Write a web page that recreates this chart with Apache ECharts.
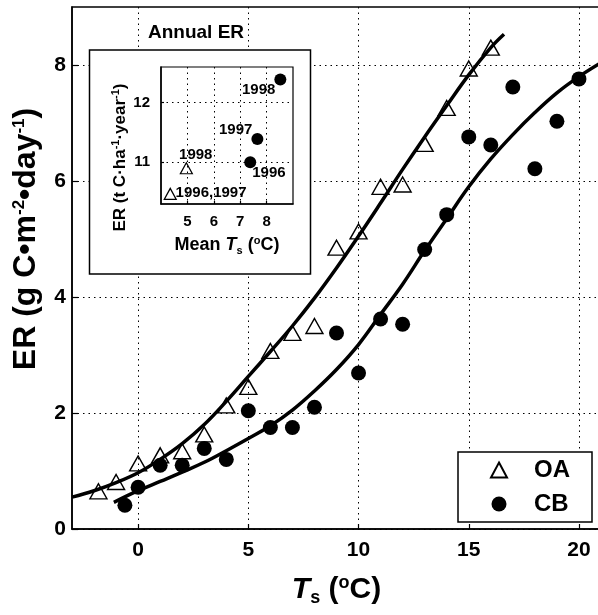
<!DOCTYPE html>
<html>
<head>
<meta charset="utf-8">
<script src="https://cdn.jsdelivr.net/npm/echarts@6/dist/echarts.min.js"></script>
<style>
html,body{margin:0;padding:0;background:#fff;}
#main{width:598px;height:615px;}
</style>
</head>
<body>
<div id="main"></div>
<script>
//-------------------- data: daily ER vs soil temperature --------------------
var oaTs = [-1.8, -1, 0, 1, 2, 3, 4, 5, 6, 7, 8, 9, 10, 11, 12, 13, 14, 15, 16];
var oaER = [0.65, 0.81, 1.13, 1.27, 1.34, 1.63, 2.13, 2.45, 3.07, 3.38, 3.5, 4.85, 5.13, 5.9, 5.94, 6.64, 7.26, 7.94, 8.3];
var cbTs = [-0.6, 0, 1, 2, 3, 4, 5, 6, 7, 8, 9, 10, 11, 12, 13, 14, 15, 16, 17, 18, 19, 20];
var cbER = [0.41, 0.72, 1.10, 1.10, 1.39, 1.20, 2.04, 1.75, 1.75, 2.1, 3.38, 2.69, 3.62, 3.53, 4.82, 5.42, 6.76, 6.62, 7.62, 6.21, 7.03, 7.76];
// fitted curves
var oaFitTs = [-3, -2, -1, 0, 1, 2, 3, 4, 5, 6, 7, 8, 9, 10, 11, 12, 13, 14, 15, 16, 16.6];
var oaFitER = [0.55, 0.66, 0.80, 0.97, 1.20, 1.47, 1.80, 2.20, 2.63, 3.06, 3.50, 3.98, 4.50, 5.05, 5.62, 6.20, 6.76, 7.30, 7.83, 8.30, 8.53];
var cbFitTs = [-1.1, 0, 1, 2, 3, 4, 5, 6, 7, 8, 9, 10, 11, 12, 13, 14, 15, 16, 17, 18, 19, 20, 21];
var cbFitER = [0.46, 0.66, 0.82, 0.98, 1.15, 1.35, 1.56, 1.78, 2.05, 2.38, 2.75, 3.18, 3.70, 4.22, 4.80, 5.35, 5.90, 6.38, 6.80, 7.18, 7.52, 7.80, 8.04];
var xTicks = [0, 5, 10, 15, 20];
var yTicks = [0, 2, 4, 6, 8];
//-------------------- data: inset, annual ER vs mean Ts --------------------
var annOA = [[4.35, 10.47], [4.96, 10.9]];
var annOAYears = ['1996,1997', '1998'];
var annCB = [[7.38, 11.0], [7.65, 11.39], [8.52, 12.39]];
var annCBYears = ['1996', '1997', '1998'];
var insetXTicks = [5, 6, 7, 8];
var insetYTicks = [11, 12];

var FONT = '"Liberation Sans", Arial, Helvetica, sans-serif';
var black = '#000';

function zip(xs, ys){
    var out = [];
    for (var i = 0; i < xs.length; i++) out.push([xs[i], ys[i]]);
    return out;
}

// label placement for the inset year tags (style only)
var oaTagPos = [{pos: [12, 5.5], align: 'left'}, {pos: [16, -7.5], align: 'center'}];
var cbTagPos = [{pos: [8, 17], align: 'left'}, {pos: [1, -3], align: 'right'}, {pos: [1, 16], align: 'right'}];

function tagged(points, years, pos){
    return points.map(function(p, i){
        return {
            value: p,
            label: {
                show: true, formatter: years[i], position: pos[i].pos, align: pos[i].align, verticalAlign: 'middle',
                fontSize: 15, fontWeight: 'bold', color: black, fontFamily: FONT, opacity: 1, textBorderWidth: 0
            }
        };
    });
}

var dots = {color: black, width: 1, type: [1.5, 4]};

function axisBase(min, max, ticks, fs, margin, tickLen){
    return {
        type: 'value', min: min, max: max,
        axisLine: {show: true, onZero: false, lineStyle: {color: black, width: 1.5}},
        axisTick: {show: true, inside: true, length: tickLen, customValues: ticks, lineStyle: {color: black, width: 1.2}},
        axisLabel: {customValues: ticks, fontSize: fs, fontWeight: 'bold', color: black, margin: margin, fontFamily: FONT},
        splitLine: {show: true, lineStyle: dots},
        nameLocation: 'middle',
        nameMoveOverlap: false
    };
}

var mainX = axisBase(-3, 21, xTicks, 21, 11, 5);
mainX.gridIndex = 0;
mainX.name = '{it|T}{sub|s}{n| (}{sup|o}{n|C)}';
mainX.nameGap = 44;
mainX.nameTextStyle = {
    fontSize: 30, fontWeight: 'bold', color: black, fontFamily: FONT,
    rich: {
        n: {fontSize: 30, fontWeight: 'bold', color: black, fontFamily: FONT},
        it: {fontSize: 30, fontWeight: 'bold', fontStyle: 'italic', color: black, fontFamily: FONT},
        sub: {fontSize: 18, fontWeight: 'bold', color: black, fontFamily: FONT, padding: [16, 0, 0, 0]},
        sup: {fontSize: 18, fontWeight: 'bold', color: black, fontFamily: FONT, padding: [0, 0, 14, 0]}
    }
};

var mainY = axisBase(0, 9, yTicks, 21, 6, 6);
mainY.gridIndex = 0;
mainY.name = '{n|ER (g C•m}{sup|-2}{n|•day}{sup|-1}{n|)}';
mainY.nameGap = 30;
mainY.nameTextStyle = {
    fontSize: 32, fontWeight: 'bold', color: black, fontFamily: FONT, padding: [0, 0, 0, 58],
    rich: {
        n: {fontSize: 32, fontWeight: 'bold', color: black, fontFamily: FONT},
        sup: {fontSize: 17, fontWeight: 'bold', color: black, fontFamily: FONT, padding: [0, 0, 14, 0]}
    }
};

var insetX = axisBase(4, 9, insetXTicks, 15, 10, 3);
insetX.gridIndex = 1;
insetX.z = 11;
insetX.name = '{n|Mean }{it|T}{sub|s}{n| (}{sup|o}{n|C)}';
insetX.nameGap = 31;
insetX.nameTextStyle = {
    fontSize: 18, fontWeight: 'bold', color: black, fontFamily: FONT,
    rich: {
        n: {fontSize: 18, fontWeight: 'bold', color: black, fontFamily: FONT},
        it: {fontSize: 18, fontWeight: 'bold', fontStyle: 'italic', color: black, fontFamily: FONT},
        sub: {fontSize: 11, fontWeight: 'bold', color: black, fontFamily: FONT, padding: [10, 0, 0, 0]},
        sup: {fontSize: 11, fontWeight: 'bold', color: black, fontFamily: FONT, padding: [0, 0, 9, 0]}
    }
};

var insetY = axisBase(10.3, 12.6, insetYTicks, 15, 11, 3);
insetY.gridIndex = 1;
insetY.z = 11;
insetY.name = '{n|ER (t C·ha}{sup|-1}{n|·year}{sup|-1}{n|)}';
insetY.nameGap = 31;
insetY.nameTextStyle = {
    fontSize: 17, fontWeight: 'bold', color: black, fontFamily: FONT, padding: [0, 44, 0, 0],
    rich: {
        n: {fontSize: 17, fontWeight: 'bold', color: black, fontFamily: FONT},
        sup: {fontSize: 11, fontWeight: 'bold', color: black, fontFamily: FONT, padding: [0, 0, 9, 0]}
    }
};

var myChart = echarts.init(document.getElementById('main'));
var option = {
    animation: false,
    backgroundColor: '#fff',
    title: {
        text: 'Annual ER', left: 148, top: 23, padding: 0,
        textStyle: {fontSize: 19, fontWeight: 'bold', color: black, fontFamily: FONT}
    },
    legend: {
        data: ['OA', 'CB'],
        orient: 'vertical', left: 458, top: 452,
        padding: [6, 22, 6, 32],
        itemWidth: 16, itemHeight: 15, itemGap: 10,
        backgroundColor: '#fff', borderColor: black, borderWidth: 1.5, borderRadius: 0,
        selectedMode: false,
        textStyle: {fontSize: 24, fontWeight: 'bold', color: black, fontFamily: FONT, padding: [0, 0, 0, 22]}
    },
    graphic: [{
        type: 'rect', z: 10,
        shape: {x: 89.5, y: 50, width: 221, height: 224},
        style: {fill: '#fff', stroke: black, lineWidth: 1.5}
    }],
    grid: [
        {left: 72, top: 7, width: 529, height: 522, show: true, borderColor: black, borderWidth: 1.5, outerBoundsMode: 'none'},
        {left: 161, top: 67, width: 132, height: 137, show: true, borderColor: black, borderWidth: 1.2, z: 11, outerBoundsMode: 'none'}
    ],
    xAxis: [mainX, insetX],
    yAxis: [mainY, insetY],
    series: [
        {
            name: 'OA fit', type: 'line', xAxisIndex: 0, yAxisIndex: 0,
            data: zip(oaFitTs, oaFitER), smooth: 0.4, showSymbol: false, z: 2,
            lineStyle: {color: black, width: 3.5}
        },
        {
            name: 'CB fit', type: 'line', xAxisIndex: 0, yAxisIndex: 0,
            data: zip(cbFitTs, cbFitER), smooth: 0.4, showSymbol: false, z: 2,
            lineStyle: {color: black, width: 3.5}
        },
        {
            name: 'OA', type: 'scatter', xAxisIndex: 0, yAxisIndex: 0,
            data: zip(oaTs, oaER), symbol: 'triangle', symbolSize: [17, 15], z: 3,
            itemStyle: {color: 'rgba(255,255,255,0)', borderColor: black, borderWidth: 1.4, opacity: 1}
        },
        {
            name: 'CB', type: 'scatter', xAxisIndex: 0, yAxisIndex: 0,
            data: zip(cbTs, cbER), symbol: 'circle', symbolSize: 15, z: 3,
            itemStyle: {color: '#000', opacity: 1}
        },
        {
            name: 'OA annual', type: 'scatter', xAxisIndex: 1, yAxisIndex: 1,
            data: tagged(annOA, annOAYears, oaTagPos), symbol: 'triangle', symbolSize: [12, 11], z: 12,
            itemStyle: {color: 'rgba(255,255,255,0)', borderColor: black, borderWidth: 1.2, opacity: 1}
        },
        {
            name: 'CB annual', type: 'scatter', xAxisIndex: 1, yAxisIndex: 1,
            data: tagged(annCB, annCBYears, cbTagPos), symbol: 'circle', symbolSize: 12, z: 12,
            itemStyle: {color: '#000', opacity: 1}
        }
    ]
};
myChart.setOption(option);
</script>
</body>
</html>
